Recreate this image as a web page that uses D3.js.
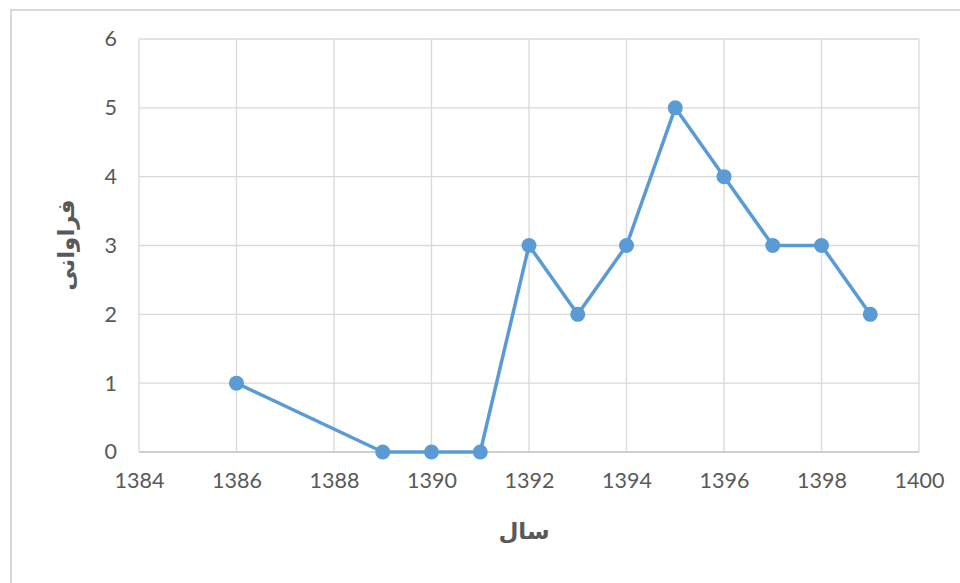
<!DOCTYPE html>
<meta charset="utf-8">
<style>
    body { margin: 0; background: #fff; }
    .tick text { font-family: Lato, sans-serif; font-size: 21.5px; fill: #595959; }
    .title { font: bold 23px "DejaVu Sans", sans-serif; fill: #595959; }
</style>
<svg></svg>
<script src="https://cdn.jsdelivr.net/npm/d3@7"></script>
<script>

    var years = [1386, 1389, 1390, 1391, 1392, 1393, 1394, 1395, 1396, 1397, 1398, 1399];
    var counts = [1, 0, 0, 0, 3, 2, 3, 5, 4, 3, 3, 2];
    var xTicks = [1384, 1386, 1388, 1390, 1392, 1394, 1396, 1398, 1400];
    var yTicks = [0, 1, 2, 3, 4, 5, 6];

    var width = 960,
        height = 583;

    var svg = d3.select("svg")
        .attr("width", width)
        .attr("height", height);

    // chart frame
    svg.append("rect")
        .attr("x", 11).attr("y", 10)
        .attr("width", 1000).attr("height", 1000)
        .attr("fill", "none")
        .attr("stroke", "#d9d9d9")
        .attr("stroke-width", 2);

    var x = d3.scaleLinear().domain([1384, 1400]).range([139, 919]);
    var y = d3.scaleLinear().domain([0, 6]).range([452, 39]);

    // grid
    svg.append("g").selectAll("line")
        .data(xTicks)
        .enter().append("line")
        .attr("x1", function (d) { return x(d); })
        .attr("x2", function (d) { return x(d); })
        .attr("y1", y(0)).attr("y2", y(6))
        .attr("stroke", "#d9d9d9").attr("stroke-width", 1.3);

    svg.append("g").selectAll("line")
        .data(yTicks)
        .enter().append("line")
        .attr("x1", x(1384)).attr("x2", x(1400))
        .attr("y1", function (d) { return y(d); })
        .attr("y2", function (d) { return y(d); })
        .attr("stroke", function (d) { return d === 0 ? "#bfbfbf" : "#d9d9d9"; })
        .attr("stroke-width", 1.3);

    // axes (labels only)
    var xAxis = svg.append("g")
        .attr("transform", "translate(0," + y(0) + ")")
        .call(d3.axisBottom(x).tickValues(xTicks).tickFormat(d3.format("d")).tickSize(0).tickPadding(21));
    xAxis.select(".domain").remove();

    var yAxis = svg.append("g")
        .attr("transform", "translate(" + x(1384) + ",0)")
        .call(d3.axisLeft(y).tickValues(yTicks).tickFormat(d3.format("d")).tickSize(0).tickPadding(22));
    yAxis.select(".domain").remove();

    // line
    var pts = years.map(function (d, i) { return [d, counts[i]]; });
    var line = d3.line()
        .x(function (d) { return x(d[0]); })
        .y(function (d) { return y(d[1]); });

    svg.append("path")
        .datum(pts)
        .attr("d", line)
        .attr("fill", "none")
        .attr("stroke", "#5b9bd5")
        .attr("stroke-width", 3.5)
        .attr("stroke-linejoin", "round");

    svg.append("g").selectAll("circle")
        .data(pts)
        .enter().append("circle")
        .attr("cx", function (d) { return x(d[0]); })
        .attr("cy", function (d) { return y(d[1]); })
        .attr("r", 7.5)
        .attr("fill", "#5b9bd5");

    // titles
    svg.append("text")
        .attr("class", "title")
        .attr("x", 524).attr("y", 539)
        .attr("text-anchor", "middle")
        .text("سال");

    svg.append("text")
        .attr("class", "title")
        .attr("transform", "translate(74,245) rotate(-90)")
        .attr("text-anchor", "middle")
        .text("فراوانی");

</script>
